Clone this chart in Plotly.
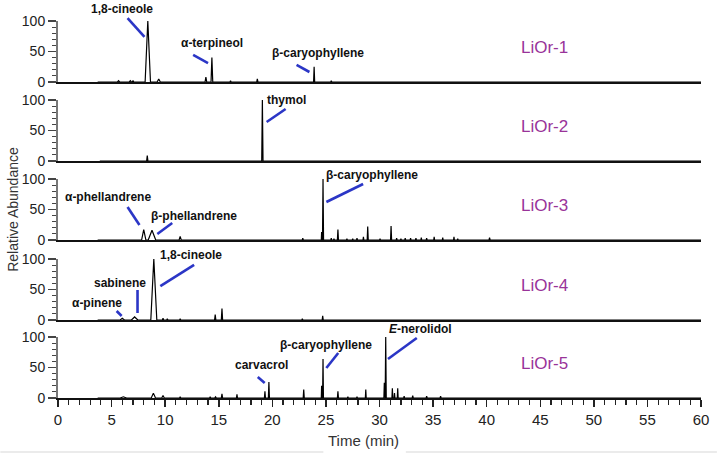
import plotly.graph_objects as go

# ---------------- data ----------------
samples = ["LiOr-1", "LiOr-2", "LiOr-3", "LiOr-4", "LiOr-5"]
run_start = [3.7, 3.9, 3.7, 3.7, 3.7]   # min, start of recorded trace
run_end = 60.0

# peaks: retention time (min), relative abundance (%), half base width (min)
lior1_rt = [5.65, 6.75, 7.0, 8.38, 9.4, 13.8, 14.36, 16.1, 18.6, 23.9, 25.5]
lior1_ab = [2, 2, 2, 100, 5, 8, 40, 2, 5, 25, 2]
lior1_hw = [0.1, 0.1, 0.08, 0.25, 0.15, 0.08, 0.08, 0.05, 0.06, 0.05, 0.05]

lior2_rt = [8.33, 19.07]
lior2_ab = [9, 100]
lior2_hw = [0.06, 0.06]

lior3_rt = [8.0, 8.77, 11.4, 22.84, 24.6, 24.73, 25.5, 25.75, 26.12, 26.96, 27.5,
            27.9, 28.5, 28.9, 30.05, 31.08, 31.6, 32.0, 32.4, 32.9, 33.4, 33.9,
            34.4, 35.1, 35.9, 36.95, 37.3, 40.27]
lior3_ab = [17, 16, 6, 3, 13, 100, 3, 2, 17, 2, 2,
            3, 5, 22, 2, 23, 3, 2, 3, 3, 3, 4,
            3, 5, 4, 5, 2, 4]
lior3_hw = [0.2, 0.35, 0.1, 0.05, 0.03, 0.05, 0.04, 0.04, 0.05, 0.04, 0.04,
            0.04, 0.04, 0.05, 0.04, 0.05, 0.04, 0.04, 0.04, 0.04, 0.04, 0.04,
            0.04, 0.04, 0.04, 0.04, 0.04, 0.05]

lior4_rt = [6.0, 7.15, 8.94, 9.8, 10.2, 11.4, 14.67, 15.3, 22.8, 24.7]
lior4_ab = [3, 5, 100, 3, 2, 2, 9, 19, 2, 7]
lior4_hw = [0.2, 0.3, 0.28, 0.06, 0.06, 0.06, 0.06, 0.06, 0.05, 0.05]

lior5_rt = [6.1, 8.9, 9.8, 11.4, 14.2, 14.7, 15.3, 16.7, 19.31, 19.68, 22.93,
            24.6, 24.73, 26.12, 27.05, 27.9, 28.72, 30.45, 30.58, 31.2, 31.4,
            31.7, 32.3, 33.1, 34.4, 35.7]
lior5_ab = [2, 8, 4, 2, 2, 2, 7, 6, 11, 26, 14,
            20, 64, 11, 2, 2, 14, 25, 100, 16, 8,
            16, 3, 4, 3, 3]
lior5_hw = [0.3, 0.2, 0.12, 0.06, 0.05, 0.08, 0.06, 0.05, 0.05, 0.05, 0.05,
            0.03, 0.04, 0.05, 0.04, 0.04, 0.04, 0.04, 0.05, 0.04, 0.04,
            0.04, 0.04, 0.05, 0.05, 0.05]

peaks = [
    (lior1_rt, lior1_ab, lior1_hw),
    (lior2_rt, lior2_ab, lior2_hw),
    (lior3_rt, lior3_ab, lior3_hw),
    (lior4_rt, lior4_ab, lior4_hw),
    (lior5_rt, lior5_ab, lior5_hw),
]

# compound labels: (panel, text, time, abundance)
compound_labels = [
    (1, "1,8-cineole", 5.94, 119.7),
    (1, "α-terpineol", 14.37, 63.9),
    (1, "β-caryophyllene", 24.3, 47.5),
    (2, "thymol", 21.33, 100.0),
    (3, "α-phellandrene", 4.64, 70.5),
    (3, "β-phellandrene", 12.7, 39.3),
    (3, "β-caryophyllene", 29.3, 106.6),
    (4, "α-pinene", 3.62, 27.9),
    (4, "sabinene", 5.75, 60.7),
    (4, "1,8-cineole", 12.43, 106.6),
    (5, "carvacrol", 19.01, 54.1),
    (5, "β-caryophyllene", 25.04, 86.9),
    (5, "<i>E</i>-nerolidol", 33.85, 113.0),
]
# leader lines: (panel, t0, a0, t1, a1)
leader_lines = [
    (1, 6.49, 104.9, 8.07, 73.8),
    (1, 12.61, 44.3, 14.0, 31.1),
    (1, 22.26, 27.9, 23.46, 16.4),
    (2, 21.24, 85.2, 19.47, 63.9),
    (3, 6.49, 54.1, 7.60, 24.6),
    (3, 10.66, 27.9, 9.27, 9.8),
    (3, 28.47, 91.8, 25.04, 62.3),
    (4, 5.47, 14.8, 5.94, 6.6),
    (4, 7.42, 49.2, 7.42, 11.5),
    (4, 12.7, 90.2, 9.55, 55.7),
    (5, 18.64, 34.4, 19.29, 24.6),
    (5, 26.15, 73.8, 25.04, 49.2),
    (5, 33.48, 98.4, 30.79, 63.9),
]
sample_label_pos = (45.4, 56)

# ---------------- layout constants ----------------
W, H = 721, 455
PL, PR, PT, PB = 58, 705, 21, 398
panel_tops = [21, 100, 179, 259, 337]
panel_h = 61
plot_h = PB - PT
Y_MAX = 100.0

FONT = "Arial, Liberation Sans, sans-serif"


def chromatogram(rt, ab, hw, start, end):
    xs, ys = [start], [0]
    for r, a, w in sorted(zip(rt, ab, hw)):
        xs += [r - w, r, r + w]
        ys += [0, a, 0]
    xs.append(end)
    ys.append(0)
    return xs, ys


fig = go.Figure()
for i, (rt, ab, hw) in enumerate(peaks):
    xs, ys = chromatogram(rt, ab, hw, run_start[i], run_end)
    sfx = "" if i == 0 else str(i + 1)
    fig.add_trace(go.Scatter(x=xs, y=ys, mode="lines",
                             line=dict(color="#000000", width=1.2),
                             xaxis="x" + sfx, yaxis="y" + sfx,
                             showlegend=False, hoverinfo="skip"))

layout = dict(
    width=W, height=H,
    margin=dict(l=PL, r=W - PR, t=PT, b=H - PB),
    paper_bgcolor="white", plot_bgcolor="white",
    font=dict(family=FONT, size=14, color="#222"),
    showlegend=False,
)

annotations = []
shapes = []
for i in range(5):
    n = i + 1
    sfx = "" if i == 0 else str(n)
    top = panel_tops[i]
    bot = top + panel_h
    d0 = (PB - bot) / plot_h
    d1 = (PB - top) / plot_h
    bottom = (i == 4)
    xa = dict(domain=[0, 1], range=[0, 60], anchor="y" + sfx,
              showgrid=False, zeroline=False,
              showline=True, linecolor="#111", linewidth=2,
              showticklabels=bottom,
              ticks="outside" if bottom else "",
              fixedrange=True)
    if bottom:
        xa.update(dtick=5, tick0=0, ticklen=7, tickwidth=1.5, tickcolor="#222",
                  tickfont=dict(size=15, color="#222"),
                  minor=dict(dtick=1, ticks="outside", ticklen=5,
                             tickwidth=1.2, tickcolor="#222"))
    else:
        xa.update(matches="x5")
    ya = dict(domain=[d0, d1], range=[0, Y_MAX], anchor="x" + sfx,
              showgrid=False, zeroline=False,
              showline=True, linecolor="#777", linewidth=2,
              ticks="outside", dtick=50, tick0=0, ticklen=8, tickwidth=1.3,
              tickcolor="#444", tickfont=dict(size=14, color="#222"),
              minor=dict(dtick=10, ticks="outside", ticklen=4, tickwidth=1.1,
                         tickcolor="#444"),
              fixedrange=True)
    layout["xaxis" + sfx] = xa
    layout["yaxis" + sfx] = ya

    annotations.append(dict(
        x=sample_label_pos[0], y=sample_label_pos[1] / Y_MAX,
        xref="x" + sfx, yref="y" + sfx + " domain", text=samples[i],
        showarrow=False,
        font=dict(size=17, color="#993399", family=FONT),
        xanchor="center", yanchor="middle"))

for (p, txt, t, a) in compound_labels:
    sfx = "" if p == 1 else str(p)
    annotations.append(dict(
        x=t, y=a / Y_MAX, xref="x" + sfx, yref="y" + sfx + " domain",
        text="<b>" + txt + "</b>",
        showarrow=False, font=dict(size=12, color="#111", family=FONT),
        xanchor="center", yanchor="middle"))

for (p, t0, a0, t1, a1) in leader_lines:
    sfx = "" if p == 1 else str(p)
    shapes.append(dict(type="line", xref="x" + sfx, yref="y" + sfx + " domain",
                       x0=t0, y0=a0 / Y_MAX, x1=t1, y1=a1 / Y_MAX,
                       line=dict(color="#2b36c6", width=2.6)))

# axis titles
annotations.append(dict(
    x=-(PL - 12) / (PR - PL), y=0.5, xref="paper", yref="paper",
    text="Relative Abundance", textangle=-90, showarrow=False,
    font=dict(size=14, color="#333", family=FONT),
    xanchor="center", yanchor="middle"))
annotations.append(dict(
    x=(365 - PL) / (PR - PL), y=-(440 - PB) / plot_h, xref="paper", yref="paper",
    text="Time (min)", showarrow=False,
    font=dict(size=15, color="#333", family=FONT),
    xanchor="center", yanchor="middle"))

# faint separator line at the very bottom of the image
for (a, b) in [(0, 325), (408, 721)]:
    shapes.append(dict(type="line", xref="paper", yref="paper",
                       x0=(a - PL) / (PR - PL), x1=(b - PL) / (PR - PL),
                       y0=-(452 - PB) / plot_h, y1=-(452 - PB) / plot_h,
                       line=dict(color="#e4e4e4", width=1.5)))

layout["annotations"] = annotations
layout["shapes"] = shapes
fig.update_layout(**layout)
fig.write_html("out.html",
               config={"displayModeBar": False, "staticPlot": True},
               post_script="document.body.style.margin='0';"
                           "document.body.style.padding='0';")
